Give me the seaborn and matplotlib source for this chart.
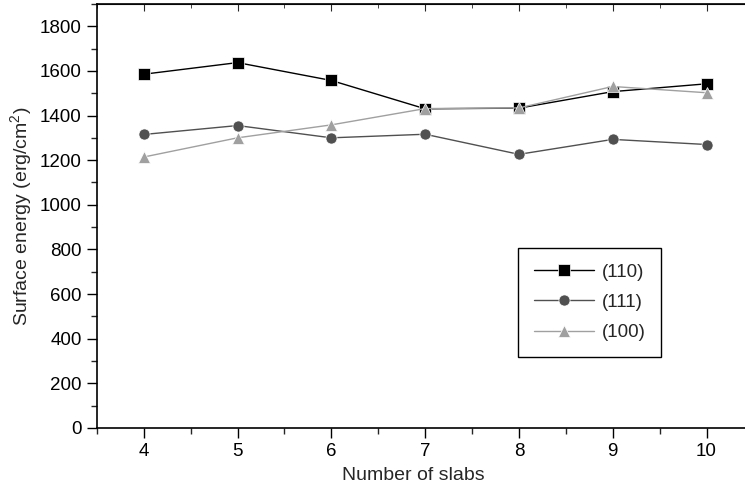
import pandas as pd
import seaborn as sns
import matplotlib.pyplot as plt
from matplotlib.ticker import MultipleLocator

# Data
slabs = [4, 5, 6, 7, 8, 9, 10]
e110 = [1585, 1637, 1557, 1430, 1433, 1507, 1542]
e111 = [1315, 1355, 1300, 1316, 1226, 1293, 1270]
e100 = [1214, 1300, 1358, 1431, 1434, 1530, 1502]
labels = ['(110)', '(111)', '(100)']

df = pd.DataFrame({
    'slabs': slabs * 3,
    'energy': e110 + e111 + e100,
    'surface': [labels[0]] * 7 + [labels[1]] * 7 + [labels[2]] * 7,
})

sns.set_style('ticks')
plt.rcParams['font.family'] = ['Liberation Sans', 'DejaVu Sans']
plt.rcParams['mathtext.fontset'] = 'custom'
plt.rcParams['mathtext.rm'] = 'Liberation Sans'

fig = plt.figure(figsize=(7.45, 4.88), dpi=100)
ax = fig.add_axes([0.130, 0.123, 0.870, 0.869])

palette = {'(110)': '#000000', '(111)': '#505050', '(100)': '#a0a0a0'}
markers = {'(110)': 's', '(111)': 'o', '(100)': '^'}
sns.lineplot(data=df, x='slabs', y='energy', hue='surface', style='surface',
             palette=palette, markers=markers, dashes=False, markersize=8,
             markeredgewidth=0.5, markeredgecolor='white', linewidth=1, ax=ax)

ax.set_xlim(3.5, 10.41)
ax.set_ylim(0, 1900)
ax.xaxis.set_major_locator(MultipleLocator(1))
ax.xaxis.set_minor_locator(MultipleLocator(0.5))
ax.yaxis.set_major_locator(MultipleLocator(200))
ax.yaxis.set_minor_locator(MultipleLocator(100))
ax.tick_params(which='major', direction='out', length=7, width=1, labelsize=13.5,
               colors='black', pad=4)
ax.tick_params(which='minor', direction='out', length=4, width=1)
for s in ax.spines.values():
    s.set_linewidth(1.2)
    s.set_color('black')
ax.spines['right'].set_visible(False)

top = ax.secondary_xaxis('top')
top.xaxis.set_major_locator(MultipleLocator(1))
top.xaxis.set_minor_locator(MultipleLocator(0.5))
top.tick_params(which='major', direction='in', length=5, labeltop=False)
top.tick_params(which='minor', direction='in', length=3)

ax.set_xlabel('Number of slabs', fontsize=14)
ax.set_ylabel('Surface energy (erg/cm$^2$)', fontsize=14)
ax.xaxis.set_label_coords(0.488, -0.092)
ax.yaxis.set_label_coords(-0.096, 0.5)

leg = ax.legend(loc='lower left', bbox_to_anchor=(0.650, 0.167), fontsize=13.5,
                frameon=True, fancybox=False, edgecolor='black', framealpha=1,
                handlelength=3.2, handletextpad=0.4, borderpad=0.85,
                labelspacing=0.7, borderaxespad=0)
leg.get_frame().set_linewidth(1)

fig.savefig('out.png', dpi=100)
